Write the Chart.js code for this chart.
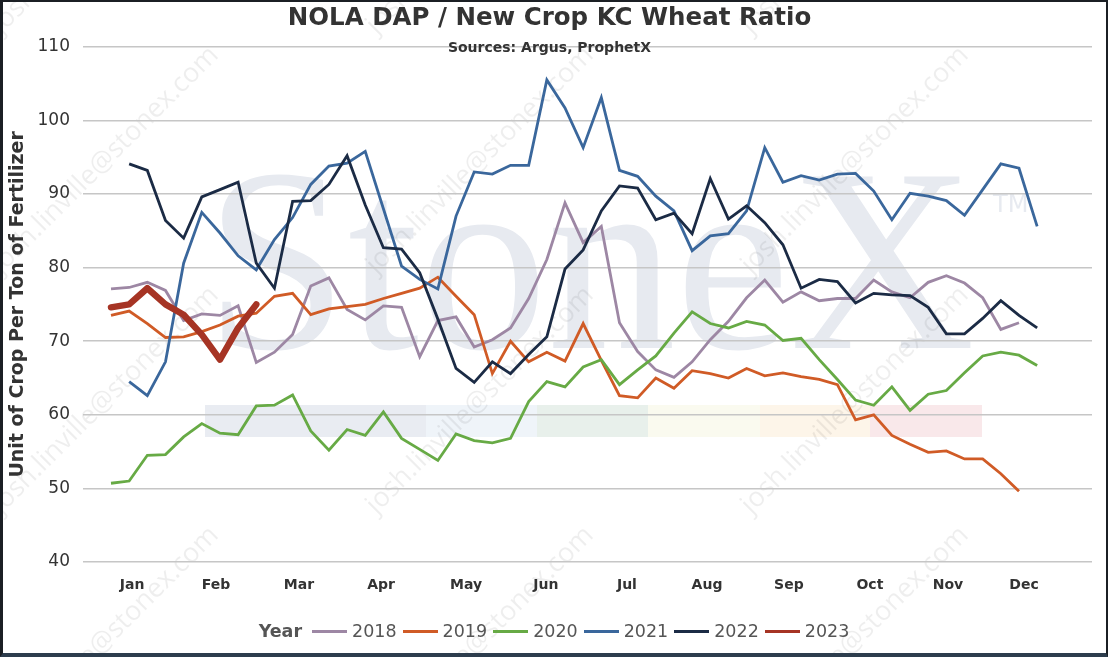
<!DOCTYPE html>
<html>
<head>
<meta charset="utf-8">
<title>NOLA DAP / New Crop KC Wheat Ratio</title>
<script src="https://cdn.jsdelivr.net/npm/chart.js@4.4.0/dist/chart.umd.min.js"></script>
<style>
  html, body { margin: 0; padding: 0; background: #fff; }
  .frame { position: relative; width: 1108px; height: 657px; overflow: hidden; background: #fff; }
  .frame canvas { position: absolute; left: 0; top: 0; }
  .edge { position: absolute; inset: 0; box-sizing: border-box; pointer-events: none;
    border: 2px solid #1b1f24; border-left-width: 3px; border-bottom: 4px solid #2d3d4d; }
  .legend { position: absolute; left: 0; right: 0; top: 621px; display: flex; justify-content: center;
    align-items: center; font-family: 'DejaVu Sans', sans-serif; font-size: 17.5px; color: #555; }
  .legend b { margin-right: 10px; }
  .legend .item { display: flex; align-items: center; margin-right: 6px; }
  .legend .item:last-child { margin-right: 0; }
  .legend .item i { display: inline-block; width: 35px; height: 3px; margin-right: 5px; }
</style>
</head>
<body>
<div class="frame">
  <canvas id="chart"></canvas>
  <div class="legend" id="legend"></div>
  <div class="edge"></div>
</div>
<script>
const years = ['2018', '2019', '2020', '2021', '2022', '2023'];
const months = ['Jan', 'Feb', 'Mar', 'Apr', 'May', 'Jun', 'Jul', 'Aug', 'Sep', 'Oct', 'Nov', 'Dec'];

// weekly ratio values, one per week starting at firstWeek
const ratio2018 = [77.1, 77.3, 78.0, 76.9, 72.8, 73.7, 73.5, 74.8, 67.1, 68.5, 70.9, 77.5, 78.6, 74.3, 72.9, 74.8,
  74.6, 67.9, 72.8, 73.3, 69.2, 70.2, 71.8, 75.8, 81.1, 88.8, 83.4, 85.6, 72.5, 68.6, 66.1, 65.1, 67.2, 70.2,
  72.7, 75.9, 78.3, 75.3, 76.7, 75.5, 75.8, 75.8, 78.3, 76.7, 75.9, 78.0, 78.9, 77.9, 75.9, 71.6, 72.5];
const ratio2019 = [73.5, 74.1, 72.4, 70.5, 70.6, 71.3, 72.2, 73.4, 73.8, 76.1, 76.5, 73.6, 74.4, 74.7, 75.0, 75.8,
  76.5, 77.2, 78.7, 76.1, 73.6, 65.6, 70.0, 67.2, 68.5, 67.3, 72.4, 67.4, 62.6, 62.3, 65.0, 63.6, 66.0, 65.6,
  65.0, 66.3, 65.3, 65.7, 65.2, 64.8, 64.1, 59.3, 60.0, 57.2, 56.0, 54.9, 55.1, 54.0, 54.0, 52.0, 49.6];
const ratio2020 = [50.7, 51.0, 54.5, 54.6, 57.0, 58.8, 57.5, 57.3, 61.2, 61.3, 62.7, 57.8, 55.2, 58.0, 57.2, 60.4,
  56.8, 55.3, 53.8, 57.4, 56.5, 56.2, 56.8, 61.8, 64.5, 63.8, 66.5, 67.5, 64.1, 66.1, 68.0, 71.1, 74.0, 72.4,
  71.8, 72.7, 72.2, 70.1, 70.4, 67.5, 64.8, 62.0, 61.3, 63.8, 60.6, 62.8, 63.3, 65.7, 68.0, 68.5, 68.1, 66.7];
const ratio2021 = [64.5, 62.6, 67.2, 80.6, 87.5, 84.7, 81.6, 79.7, 83.8, 86.8, 91.3, 93.8, 94.2, 95.8, 88.0,
  80.2, 78.4, 77.1, 87.0, 93.0, 92.7, 93.9, 93.9, 105.5, 101.7, 96.3, 103.1, 93.2, 92.4, 89.7, 87.7, 82.3, 84.3,
  84.6, 87.7, 96.3, 91.6, 92.5, 91.9, 92.7, 92.8, 90.4, 86.5, 90.1, 89.7, 89.1, 87.1, 90.6, 94.1, 93.5, 85.6];
const ratio2022 = [94.1, 93.2, 86.4, 84.0, 89.6, 90.6, 91.6, 80.6, 77.2, 89.0, 89.1, 91.3, 95.2, 88.5, 82.7,
  82.5, 79.3, 73.0, 66.3, 64.4, 67.2, 65.6, 68.2, 70.6, 79.8, 82.4, 87.7, 91.1, 90.8, 86.5, 87.4, 84.6, 92.1,
  86.6, 88.4, 86.1, 83.1, 77.2, 78.4, 78.1, 75.2, 76.5, 76.3, 76.2, 74.6, 71.0, 71.0, 73.1, 75.5, 73.5, 71.8];
const ratio2023 = [74.6, 75.0, 77.2, 75.0, 73.6, 70.9, 67.5, 71.8, 75.0];

const series = [ratio2018, ratio2019, ratio2020, ratio2021, ratio2022, ratio2023];
const firstWeek = [0, 0, 0, 1, 1, 0];
const colors = ['#9d87a4', '#d05b26', '#67aa45', '#3a679c', '#1b2b45', '#a63424'];

// where each month label sits on the week axis
const monthWeek = [1.16, 5.78, 10.35, 14.87, 19.55, 23.95, 28.41, 32.82, 37.33, 41.79, 46.09, 50.28];

const watermark = {
	id: 'watermark',
	beforeDraw(chart) {
		const ctx = chart.ctx;
		ctx.save();

		const bands = [
			[205, 426, '#e9ecf2'], [426, 537, '#eff4f9'], [537, 648, '#e8f0eb'],
			[648, 760, '#fafaef'], [760, 870, '#fdf5e9'], [870, 982, '#f9e8ea'],
		];
		bands.forEach(([a, b, c]) => {
			ctx.fillStyle = c;
			ctx.fillRect(a, 405, b - a, 32);
		});

		ctx.fillStyle = '#e7eaf0';
		ctx.font = '262px "Liberation Serif", serif';
		ctx.textBaseline = 'alphabetic';
		const w = ctx.measureText('StoneX').width;
		ctx.save();
		ctx.translate(205, 348);
		ctx.scale(770 / w, 1);
		ctx.fillText('StoneX', 0, 0);
		ctx.restore();
		ctx.font = '24px "DejaVu Sans", sans-serif';
		ctx.fillText('TM', 993, 212);

		ctx.fillStyle = 'rgba(0, 0, 0, 0.065)';
		ctx.font = '27px "Open Sans", sans-serif';
		ctx.textAlign = 'center';
		ctx.textBaseline = 'middle';
		for (let gx = -270; gx < 1300; gx += 375) {
			for (let gy = -80; gy < 800; gy += 240) {
				ctx.save();
				ctx.translate(gx, gy);
				ctx.rotate(-Math.PI / 4);
				ctx.fillText('josh.linville@stonex.com', 0, 0);
				ctx.restore();
			}
		}
		ctx.restore();
	},
};

const datasets = years.map((year, k) => ({
	label: year,
	data: series[k].map((v, i) => ({ x: firstWeek[k] + i, y: v })),
	borderColor: colors[k],
	backgroundColor: colors[k],
	borderWidth: year === '2023' ? 6.5 : 2.8,
	borderCapStyle: year === '2023' ? 'round' : 'butt',
	borderJoinStyle: year === '2023' ? 'round' : 'miter',
	pointRadius: 0,
	tension: 0,
	fill: false,
	order: years.length - k,
}));

new Chart(document.getElementById('chart'), {
	type: 'line',
	data: { datasets },
	options: {
		responsive: true,
		maintainAspectRatio: false,
		animation: false,
		layout: { padding: { left: 7, right: 16, top: 0, bottom: 60 } },
		plugins: {
			legend: { display: false },
			tooltip: { enabled: false },
			title: {
				display: true,
				text: 'NOLA DAP / New Crop KC Wheat Ratio',
				color: '#333',
				font: { family: 'DejaVu Sans', size: 24.5, weight: 'bold' },
				padding: { top: 4, bottom: 0 },
			},
			subtitle: {
				display: true,
				text: 'Sources: Argus, ProphetX',
				color: '#333',
				font: { family: 'DejaVu Sans', size: 14, weight: 'bold' },
				padding: { top: 6.2, bottom: -9.6 },
			},
		},
		scales: {
			x: {
				type: 'linear',
				min: -1.542,
				max: 54.02,
				grid: { display: false, drawTicks: false },
				border: { display: false },
				afterBuildTicks(scale) {
					scale.ticks = monthWeek.map((v) => ({ value: v }));
				},
				afterFit(scale) {
					scale.height = 35;
				},
				ticks: {
					autoSkip: false,
					maxRotation: 0,
					padding: 15,
					color: '#333',
					font: { family: 'DejaVu Sans', size: 14, weight: 'bold' },
					callback: (v, i) => months[i],
				},
			},
			y: {
				min: 40,
				max: 110,
				grid: { color: '#c6c6c6', lineWidth: 1.5, drawTicks: false },
				border: { display: false },
				afterFit(scale) {
					scale.width = 76;
				},
				ticks: {
					stepSize: 10,
					padding: 13,
					color: '#333',
					font: { family: 'DejaVu Sans', size: 17 },
				},
				title: {
					display: true,
					text: 'Unit of Crop Per Ton of Fertilizer',
					color: '#333',
					font: { family: 'DejaVu Sans', size: 19, weight: 'bold' },
					padding: { top: 0, bottom: 0 },
				},
			},
		},
	},
	plugins: [watermark],
});

const legend = document.getElementById('legend');
legend.innerHTML = '<b>Year</b>' + years.map((y, k) =>
	'<span class="item"><i style="background:' + colors[k] + '"></i>' + y + '</span>').join('');
</script>
</body>
</html>
